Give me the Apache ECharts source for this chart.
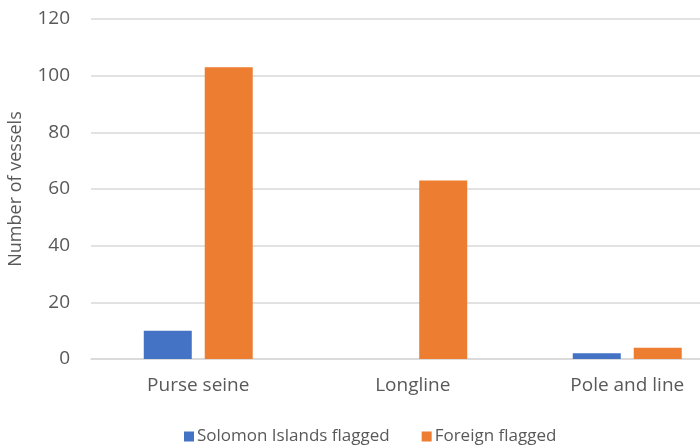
<!DOCTYPE html>
<html><head><meta charset="utf-8">
<script src="https://cdn.jsdelivr.net/npm/echarts@6/dist/echarts.min.js"></script>
<style>html,body{margin:0;padding:0;background:#fff;overflow:hidden;width:700px;height:445px}#c{width:735px;height:445px}</style>
</head><body><div id="c"></div>
<script>
var categories = ["Purse seine", "Longline", "Pole and line"];
var solomonFlagged = [10, 0, 2];
var foreignFlagged = [103, 63, 4];
var yTicks = [0, 20, 40, 60, 80, 100, 120];
var seriesNames = ["Solomon Islands flagged", "Foreign flagged"];

var font = "'Open Sans', 'Noto Sans', sans-serif";
var chart = echarts.init(document.getElementById('c'), null, {renderer: 'canvas'});
chart.setOption({
  animation: false,
  textStyle: {fontFamily: font},
  legend: {
    data: seriesNames,
    left: 179, top: 423,
    itemWidth: 10, itemHeight: 10, itemGap: 32,
    icon: 'rect',
    textStyle: {fontSize: 17, color: '#595959', fontFamily: font, padding: [0, 0, 0, -2]}
  },
  grid: {left: 91, top: 19, width: 643.5, height: 340, containLabel: false, outerBoundsMode: 'none'},
  xAxis: {
    type: 'category', data: categories,
    axisLine: {show: true, lineStyle: {color: '#D9D9D9', width: 1.5}},
    axisTick: {show: false},
    axisLabel: {fontSize: 19, color: '#595959', margin: 17, fontFamily: font}
  },
  yAxis: {
    type: 'value', min: yTicks[0], max: yTicks[yTicks.length - 1], interval: 20,
    name: 'Number of vessels', nameLocation: 'middle', nameGap: 66, nameRotate: 90,
    nameTextStyle: {fontSize: 18, color: '#595959', fontFamily: font},
    axisLine: {show: false}, axisTick: {show: false},
    axisLabel: {fontSize: 19, color: '#595959', margin: 21, fontFamily: font},
    splitLine: {lineStyle: {color: '#D9D9D9', width: 1.5}}
  },
  series: [
    {name: seriesNames[0], type: 'bar', data: solomonFlagged, barWidth: 48, barGap: '27%',
     itemStyle: {color: '#4472C4'}},
    {name: seriesNames[1], type: 'bar', data: foreignFlagged, barWidth: 48, barGap: '27%',
     itemStyle: {color: '#ED7D31'}}
  ]
});
</script></body></html>
